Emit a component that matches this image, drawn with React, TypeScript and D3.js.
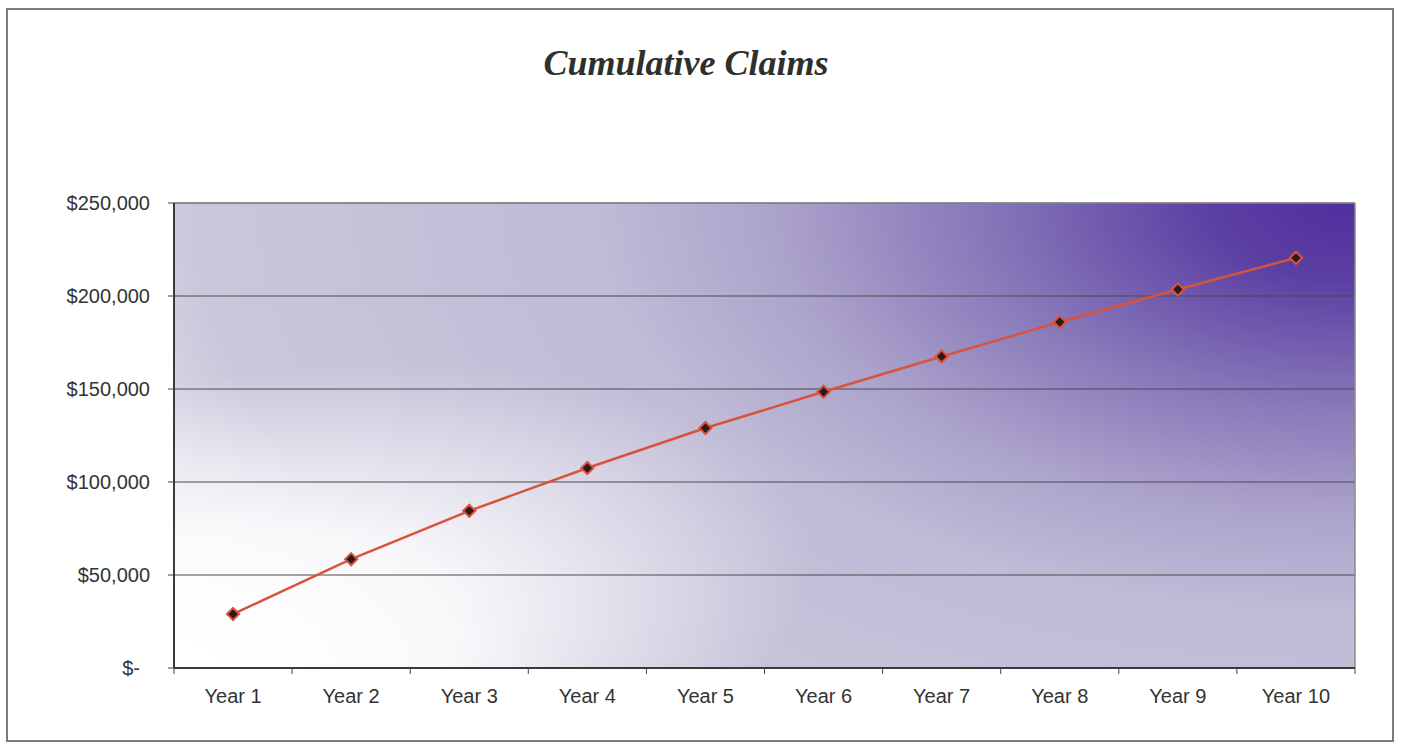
import * as d3 from "d3";
import React from "react";

const years = ["Year 1", "Year 2", "Year 3", "Year 4", "Year 5", "Year 6", "Year 7", "Year 8", "Year 9", "Year 10"];
const claims = [29000, 58500, 84500, 107500, 129000, 148500, 167500, 186000, 203500, 220500];
const yTicks = [0, 50000, 100000, 150000, 200000, 250000];

const W = 1401;
const H = 749;
const left = 174, right = 1355, top = 203, bottom = 668;

const fmt = (v: number) => (v === 0 ? "$-" : "$" + d3.format(",")(v));

const App: React.FC = () => {
    const x = d3.scaleBand().domain(years).range([left, right]);
    const y = d3.scaleLinear().domain([0, 250000]).range([bottom, top]);
    const line = d3.line<number>()
        .x((_, i) => x(years[i])! + x.bandwidth() / 2)
        .y(d => y(d));
    const pw = right - left;
    const ph = bottom - top;
    const diamond = d3.symbol().type(d3.symbolDiamond2).size(95)();
    const font = "'Liberation Sans', Arial, sans-serif";

    return (
        <svg width={W} height={H} style={{ position: "absolute", left: 0, top: 0, background: "white" }}>
            <defs>
                <radialGradient id="bg" gradientUnits="userSpaceOnUse" cx={0} cy={0} r={1}
                    gradientTransform={`translate(${right},${top}) scale(${pw * 1.23},${ph * 1.68})`}>
                    <stop offset="0" stopColor="#4f2f9e" />
                    <stop offset="0.1" stopColor="#5c3fa3" />
                    <stop offset="0.25" stopColor="#8575b8" />
                    <stop offset="0.4" stopColor="#aca3cb" />
                    <stop offset="0.52" stopColor="#bfbad6" />
                    <stop offset="0.8" stopColor="#cac7db" />
                    <stop offset="0.92" stopColor="#e6e4ee" />
                    <stop offset="1" stopColor="#ffffff" />
                </radialGradient>
                <radialGradient id="glow" gradientUnits="userSpaceOnUse" cx={0} cy={0} r={1}
                    gradientTransform={`translate(${left},${bottom}) rotate(-12) scale(${pw * 0.55},${ph * 0.6})`}>
                    <stop offset="0" stopColor="#ffffff" stopOpacity={1} />
                    <stop offset="0.45" stopColor="#ffffff" stopOpacity={0.85} />
                    <stop offset="1" stopColor="#ffffff" stopOpacity={0} />
                </radialGradient>
            </defs>

            {/* outer frame */}
            <rect x={7} y={9} width={1386} height={732} fill="white" stroke="#7a7a7a" strokeWidth={2} />

            <text x={686} y={75} textAnchor="middle" fontFamily="'Liberation Serif', 'Times New Roman', serif"
                fontStyle="italic" fontWeight="bold" fontSize={36} fill="#2e302e">
                Cumulative Claims
            </text>

            {/* plot area */}
            <rect x={left} y={top} width={pw} height={ph} fill="url(#bg)" />
            <rect x={left} y={top} width={pw} height={ph} fill="url(#glow)" />

            {yTicks.map(t => (
                <g key={t}>
                    {t > 0 && <line x1={left} x2={right} y1={y(t)} y2={y(t)} stroke="#4a4a4a" strokeWidth={1} />}
                    <line x1={left - 6} x2={left} y1={y(t)} y2={y(t)} stroke="#444" strokeWidth={1} />
                    <text x={150} dx={t === 0 ? -10 : 0} y={y(t)} dy="0.35em" textAnchor="end"
                        fontFamily={font} fontSize={20} fill="#333">
                        {fmt(t)}
                    </text>
                </g>
            ))}

            <line x1={right} x2={right} y1={top} y2={bottom} stroke="#8a8a8a" strokeWidth={1.5} />
            <line x1={left} x2={right} y1={top} y2={top} stroke="#8a8a8a" strokeWidth={1.5} />
            <line x1={left} x2={left} y1={top} y2={bottom} stroke="#3a3a3a" strokeWidth={2} />
            <line x1={left} x2={right} y1={bottom} y2={bottom} stroke="#3a3a3a" strokeWidth={2} />

            {years.map((yr, i) => (
                <g key={yr}>
                    <line x1={x(yr)!} x2={x(yr)!} y1={bottom} y2={bottom + 6} stroke="#444" strokeWidth={1} />
                    {i === years.length - 1 && (
                        <line x1={right} x2={right} y1={bottom} y2={bottom + 6} stroke="#444" strokeWidth={1} />
                    )}
                    <text x={x(yr)! + x.bandwidth() / 2} y={bottom + 35} textAnchor="middle"
                        fontFamily={font} fontSize={20} fill="#333">
                        {yr}
                    </text>
                </g>
            ))}

            <path d={line(claims)!} fill="none" stroke="#d9533c" strokeWidth={2.5} />
            {claims.map((c, i) => (
                <path key={i} d={diamond!}
                    transform={`translate(${x(years[i])! + x.bandwidth() / 2},${y(c)})`}
                    fill="#2a1a1a" stroke="#d9533c" strokeWidth={2} />
            ))}
        </svg>
    );
};

export default App;
